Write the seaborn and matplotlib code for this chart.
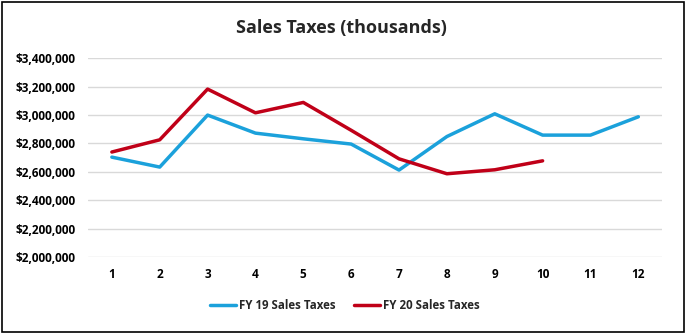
import matplotlib
matplotlib.use("Agg")
import matplotlib.pyplot as plt
import seaborn as sns
import pandas as pd
import numpy as np
from matplotlib.ticker import FuncFormatter, MultipleLocator
from matplotlib.patches import Rectangle

months = list(range(1, 13))
fy19 = [2703000, 2633000, 2999000, 2872000, 2832000, 2795000, 2612000, 2848000, 3008000, 2858000, 2858000, 2987000]
fy20 = [2739000, 2825000, 3182000, 3015000, 3088000, 2892000, 2691000, 2586000, 2614000, 2677000]
series_names = ["FY 19 Sales Taxes", "FY 20 Sales Taxes"]
colors = ["#1BA1DB", "#C00018"]

df = pd.concat([
    pd.DataFrame({"Month": months, "Value": fy19, "Series": series_names[0]}),
    pd.DataFrame({"Month": months[:len(fy20)], "Value": fy20, "Series": series_names[1]}),
])

sns.set_theme(style="white")
plt.rcParams['font.family'] = ['Open Sans', 'DejaVu Sans']

fig = plt.figure(figsize=(6.87, 3.34), dpi=100)
ax = fig.add_axes([0.128, 0.2305, 0.836, 0.5955])

sns.lineplot(data=df, x="Month", y="Value", hue="Series", palette=colors,
             linewidth=2.5, ax=ax, legend=True)

ax.set_xlim(0.5, 12.5)
ax.set_ylim(2000000, 3400000)
ax.yaxis.set_major_locator(MultipleLocator(200000))
ax.set_xticks(months)
ax.yaxis.set_major_formatter(FuncFormatter(lambda v, p: f"${v:,.0f}"))
ax.grid(axis="y", color="#D9D9D9", linewidth=1)
ax.set_axisbelow(True)
for s in ax.spines.values():
    s.set_visible(False)
ax.tick_params(axis="both", length=0, labelsize=8.5, colors="black")
ax.tick_params(axis="x", pad=8)
ax.tick_params(axis="y", pad=9)
for lab in ax.get_xticklabels() + ax.get_yticklabels():
    lab.set_fontweight("bold")
ax.set_xlabel("")
ax.set_ylabel("")

handles, labels = ax.get_legend_handles_labels()
ax.legend(handles, labels, loc="center", bbox_to_anchor=(0.447, -0.245), ncol=2,
          frameon=False, handlelength=2.3, handletextpad=0.2, columnspacing=1.6,
          prop={"weight": "bold", "size": 8.3})

fig.text(0.497, 0.915, "Sales Taxes (thousands)", ha="center", va="center",
         fontsize=13, fontweight="bold")

fig.patches.append(Rectangle((0.003, 0.006), 0.992, 0.988, transform=fig.transFigure,
                             fill=False, edgecolor="black", linewidth=1.2))

fig.savefig("out.png", dpi=100, facecolor="white")
